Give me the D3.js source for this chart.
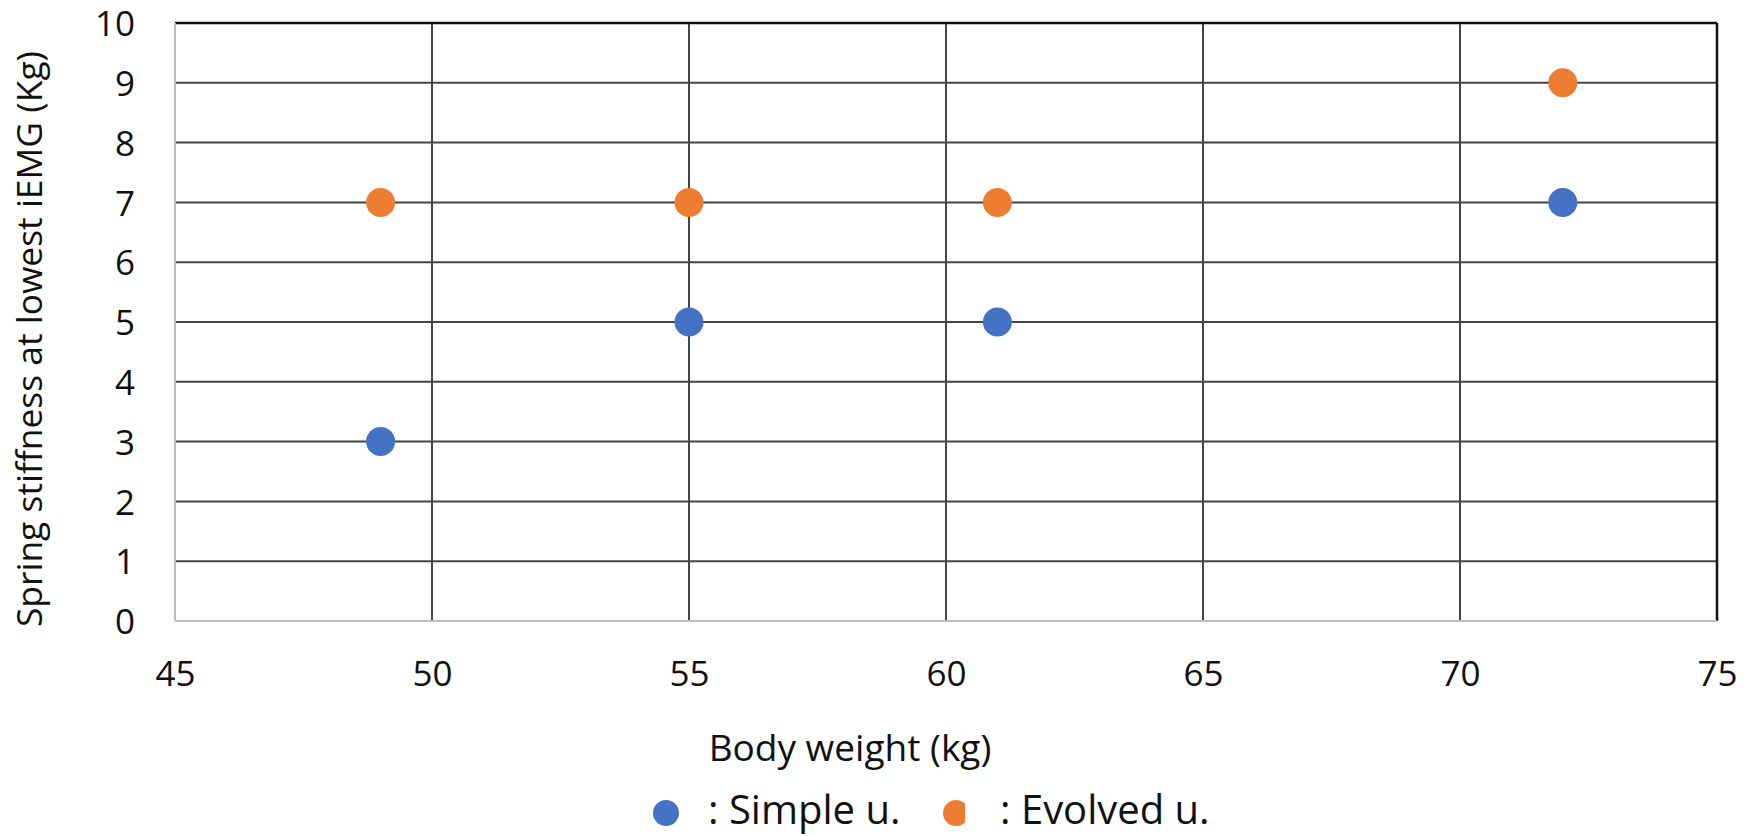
<!DOCTYPE html>
<html>
<head>
<meta charset="utf-8">
<script src="https://cdn.jsdelivr.net/npm/d3@7"></script>
<style>
  html, body { margin: 0; padding: 0; background: #fff; }
  svg { display: block; font-family: "Open Sans", sans-serif; }
</style>
</head>
<body>
<svg id="chart" width="1754" height="836"></svg>
<script>
// Body weight (kg) of each subject
const bodyWeight = [49, 55, 61, 72];
// Spring stiffness at lowest iEMG (Kg)
const simpleValues = [3, 5, 5, 7];
const evolvedValues = [7, 7, 7, 9];

const xTicks = [45, 50, 55, 60, 65, 70, 75];
const yTicks = [0, 1, 2, 3, 4, 5, 6, 7, 8, 9, 10];

const seriesNames = [": Simple u.", ": Evolved u."];
const seriesColors = ["#4472C4", "#ED7D31"];

const svg = d3.select("#chart");
const plot = { left: 175, right: 1717, top: 23, bottom: 621 };

const x = d3.scaleLinear().domain([45, 75]).range([plot.left, plot.right]);
const y = d3.scaleLinear().domain([0, 10]).range([plot.bottom, plot.top]);

// Grid lines
const grid = svg.append("g");
grid.selectAll("line.v")
  .data(xTicks.filter(d => d > 45 && d < 75))
  .join("line")
  .attr("x1", d => x(d)).attr("x2", d => x(d))
  .attr("y1", plot.top).attr("y2", plot.bottom)
  .attr("stroke", "#444").attr("stroke-width", 2);
grid.selectAll("line.h")
  .data(yTicks.filter(d => d > 0 && d < 10))
  .join("line")
  .attr("x1", plot.left).attr("x2", plot.right)
  .attr("y1", d => y(d)).attr("y2", d => y(d))
  .attr("stroke", "#444").attr("stroke-width", 2);

// Top and right borders
svg.append("line")
  .attr("x1", plot.left).attr("x2", plot.right)
  .attr("y1", y(10)).attr("y2", y(10))
  .attr("stroke", "#111").attr("stroke-width", 2.5);
svg.append("line")
  .attr("x1", x(75)).attr("x2", x(75))
  .attr("y1", plot.top).attr("y2", plot.bottom)
  .attr("stroke", "#111").attr("stroke-width", 2.5);

// Left and bottom axis lines
svg.append("line")
  .attr("x1", x(45)).attr("x2", x(45))
  .attr("y1", plot.top).attr("y2", plot.bottom)
  .attr("stroke", "#bfbfbf").attr("stroke-width", 2);
svg.append("line")
  .attr("x1", plot.left).attr("x2", plot.right)
  .attr("y1", y(0)).attr("y2", y(0))
  .attr("stroke", "#bfbfbf").attr("stroke-width", 2);

// Tick labels
const yAxis = svg.append("g")
  .attr("transform", `translate(${plot.left},0)`)
  .call(d3.axisLeft(y).tickValues(yTicks).tickSize(0).tickPadding(40).tickFormat(d3.format("d")));
const xAxis = svg.append("g")
  .attr("transform", `translate(0,${plot.bottom})`)
  .call(d3.axisBottom(x).tickValues(xTicks).tickSize(0).tickPadding(40).tickFormat(d3.format("d")));
[yAxis, xAxis].forEach(a => {
  a.select(".domain").remove();
  a.selectAll("text")
    .attr("font-family", "'Open Sans', sans-serif")
    .attr("font-size", 35)
    .attr("fill", "#111");
});
yAxis.selectAll("text").attr("dy", "0.36em");

// Markers
const series = [simpleValues, evolvedValues];
series.forEach((vals, i) => {
  svg.append("g").selectAll("circle")
    .data(vals.map((v, j) => [bodyWeight[j], v]))
    .join("circle")
    .attr("cx", d => x(d[0]))
    .attr("cy", d => y(d[1]))
    .attr("r", 14.5)
    .attr("fill", seriesColors[i]);
});

// Axis titles
svg.append("text")
  .attr("x", 850).attr("y", 761)
  .attr("text-anchor", "middle")
  .attr("font-size", 37).attr("fill", "#111")
  .text("Body weight (kg)");
svg.append("text")
  .attr("transform", "translate(42,339) rotate(-90)")
  .attr("text-anchor", "middle")
  .attr("font-size", 35.4).attr("fill", "#111")
  .text("Spring stiffness at lowest iEMG (Kg)");

// Legend
svg.append("clipPath").attr("id", "legendClip")
  .append("rect").attr("x", 600).attr("y", 780).attr("width", 365).attr("height", 56);
const legendX = [666, 956];
const legendTextX = [708, 1000];
seriesNames.forEach((name, i) => {
  svg.append("circle")
    .attr("cx", legendX[i]).attr("cy", 813).attr("r", 13)
    .attr("fill", seriesColors[i])
    .attr("clip-path", "url(#legendClip)");
  svg.append("text")
    .attr("x", legendTextX[i]).attr("y", 824)
    .attr("font-size", 40).attr("fill", "#111")
    .text(name);
});
</script>
</body>
</html>
